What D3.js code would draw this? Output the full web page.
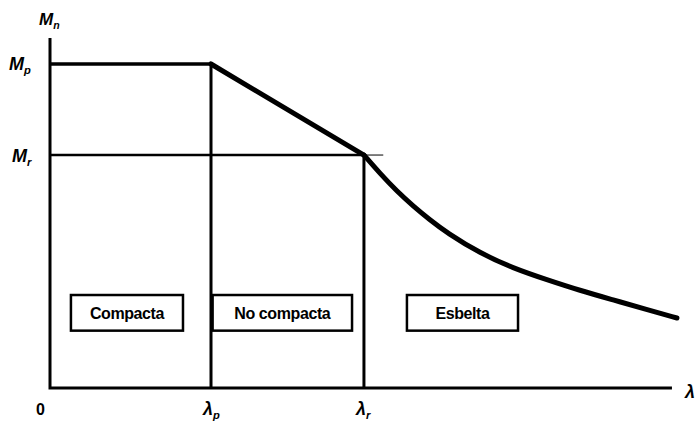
<!DOCTYPE html>
<html>
<head>
<meta charset="utf-8">
<script src="https://cdn.jsdelivr.net/npm/d3@7"></script>
<style>
  body { margin: 0; background: #fff; }
  text { font-family: 'Liberation Sans', Arial, sans-serif; fill: #000; }
</style>
</head>
<body>
<div id="chart"></div>
<script>
'use strict'

// slenderness limits (lambda) and moment levels (relative to Mp)
const lambdaP = 1.0
const lambdaR = 1.95
const lambdaEnd = 3.863
const momentP = 1.0
const momentR = 0.719

// elastic buckling branch beyond lambda_r
const slenderCurve = [
  [1.95, 0.719], [2.05, 0.662], [2.155, 0.607], [2.255, 0.562],
  [2.36, 0.519], [2.466, 0.479], [2.671, 0.416], [2.876, 0.370],
  [3.087, 0.334], [3.292, 0.301], [3.497, 0.272], [3.708, 0.242],
  [3.894, 0.216]
]

const zones = ['Compacta', 'No compacta', 'Esbelta']
const zoneStart = [0.13, 1.01, 2.217]
const zoneEnd = [0.826, 1.876, 2.907]

const width = 695
const height = 425

const svg = d3.select('#chart')
  .append('svg')
  .attr('width', width)
  .attr('height', height)

const x = d3.scaleLinear().domain([0, 4]).range([50, 694])
const y = d3.scaleLinear().domain([0, 1]).range([388, 64])

const line = d3.line().x(d => x(d[0])).y(d => y(d[1]))

// axes
svg.append('path')
  .attr('d', line([[0, 1.08], [0, 0], [lambdaEnd, 0]]))
  .attr('fill', 'none').attr('stroke', '#000').attr('stroke-width', 3)

// Mp plateau
svg.append('path')
  .attr('d', line([[0, momentP], [lambdaP, momentP]]))
  .attr('stroke', '#000').attr('stroke-width', 3.5)

// Mr level, with the thin run past the curve
svg.append('path')
  .attr('d', line([[0, momentR], [lambdaR, momentR]]))
  .attr('stroke', '#000').attr('stroke-width', 2.5)
svg.append('path')
  .attr('d', line([[lambdaR, momentR], [2.07, momentR]]))
  .attr('stroke', '#000').attr('stroke-width', 1)

// limit verticals
svg.append('path')
  .attr('d', line([[lambdaP, momentP], [lambdaP, 0]]))
  .attr('stroke', '#000').attr('stroke-width', 3)
svg.append('path')
  .attr('d', line([[lambdaR, momentR], [lambdaR, 0]]))
  .attr('stroke', '#000').attr('stroke-width', 3)

// inelastic straight transition
svg.append('path')
  .attr('d', line([[lambdaP, momentP], [lambdaR, momentR]]))
  .attr('stroke', '#000').attr('stroke-width', 5)
  .attr('stroke-linecap', 'round')

// slender curve
svg.append('path')
  .attr('d', line.curve(d3.curveBasis)(slenderCurve))
  .attr('fill', 'none').attr('stroke', '#000').attr('stroke-width', 5)
  .attr('stroke-linecap', 'round')

// zone boxes
const boxTop = y(0.287)
const boxBottom = y(0.177)
zones.forEach((name, i) => {
  const x0 = x(zoneStart[i])
  const x1 = x(zoneEnd[i])
  svg.append('rect')
    .attr('x', x0).attr('y', boxTop)
    .attr('width', x1 - x0).attr('height', boxBottom - boxTop)
    .attr('fill', '#fff').attr('stroke', '#000').attr('stroke-width', 2.5)
  svg.append('text')
    .attr('x', (x0 + x1) / 2).attr('y', (boxTop + boxBottom) / 2 + 6)
    .attr('text-anchor', 'middle')
    .style('font-size', '16px').style('font-weight', 'bold')
    .style('letter-spacing', '-0.4px')
    .text(name)
})

// symbol labels
function symbol (px, py, main, sub, size) {
  const t = svg.append('text')
    .attr('x', px).attr('y', py)
    .style('font-size', size + 'px')
    .style('font-weight', 'bold').style('font-style', 'italic')
  t.append('tspan').text(main)
  if (sub) {
    t.append('tspan')
      .attr('dy', 4)
      .style('font-size', (size * 0.62) + 'px')
      .text(sub)
  }
}

symbol(39, 25, 'M', 'n', 17)
symbol(9, 70, 'M', 'p', 18)
symbol(12, 162, 'M', 'r', 18)

svg.append('text')
  .attr('x', x(0) - 14).attr('y', 415)
  .style('font-size', '16px').style('font-weight', 'bold')
  .text('0')
symbol(x(lambdaP) - 8, 415, 'λ', 'p', 18)
symbol(x(lambdaR) - 8, 415, 'λ', 'r', 18)
symbol(685, 398, 'λ', null, 18)
</script>
</body>
</html>
